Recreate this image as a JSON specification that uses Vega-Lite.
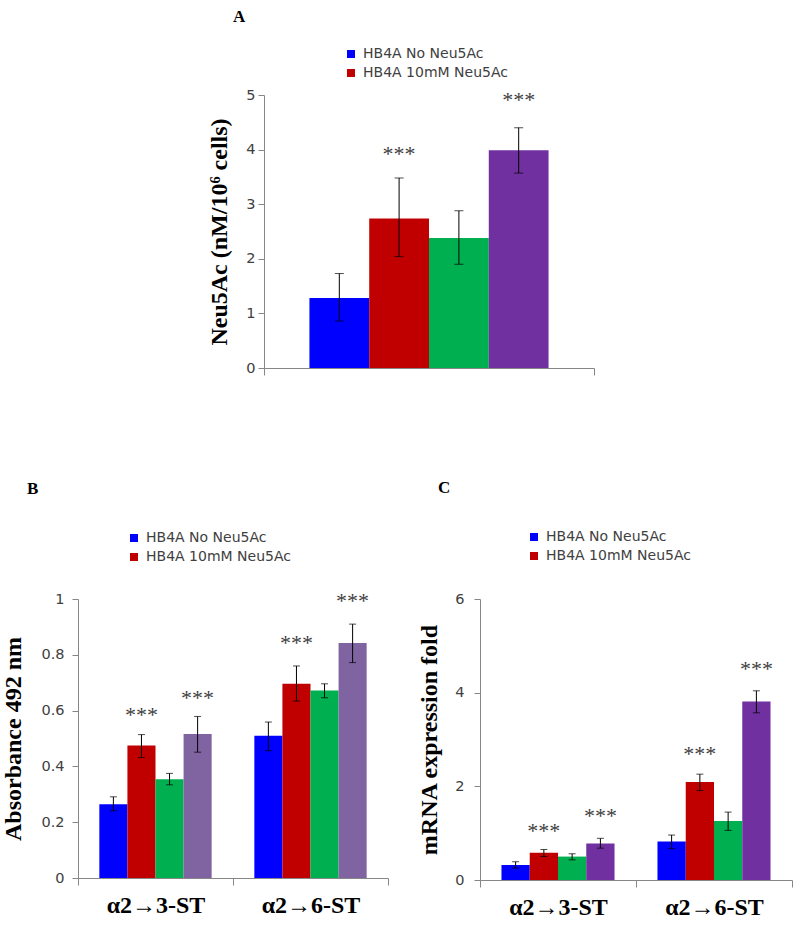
{
  "$schema": "https://vega.github.io/schema/vega-lite/v6.json",
  "padding": {"left": 1, "top": 8, "right": 0, "bottom": 0},
  "background": "white",
  "config": {
    "view": {"stroke": null},
    "axis": {"grid": false, "domainColor": "#868686", "tickColor": "#868686", "labelFont": "DejaVu Sans", "labelFontSize": 14.5, "labelColor": "#404040", "titleFont": "Liberation Serif", "titleFontSize": 24, "titleFontWeight": "bold", "titleColor": "#000000"},
    "axisX": {"labelFont": "Liberation Serif", "labelFontWeight": "bold", "labelFontSize": 24, "labelColor": "#000000", "labelAngle": 0, "tickBand": "extent", "tickSize": 7, "labelPadding": 8},
    "axisY": {"tickSize": 6},
    "legend": {"orient": "none", "title": null, "symbolType": "square", "symbolSize": 64, "symbolStrokeWidth": 0, "labelFont": "DejaVu Sans", "labelFontSize": 14, "labelColor": "#404040", "rowPadding": 5, "labelOffset": 5},
    "title": {"font": "Liberation Serif", "fontSize": 17, "fontWeight": "bold", "color": "#000000", "anchor": "start", "frame": "group"}
  },
  "datasets": {
    "bars": [
      {"panel": "A", "gene": "all", "series": "HB4A No Neu5Ac", "value": 1.28, "lo": 0.86, "hi": 1.73},
      {"panel": "A", "gene": "all", "series": "HB4A 10mM Neu5Ac", "value": 2.74, "lo": 2.04, "hi": 3.48},
      {"panel": "A", "gene": "all", "series": "Series 3", "value": 2.38, "lo": 1.90, "hi": 2.88},
      {"panel": "A", "gene": "all", "series": "Series 4", "value": 3.99, "lo": 3.57, "hi": 4.40},
      {"panel": "B", "gene": "α2→3-ST", "series": "HB4A No Neu5Ac", "value": 0.264, "lo": 0.241, "hi": 0.291},
      {"panel": "B", "gene": "α2→3-ST", "series": "HB4A 10mM Neu5Ac", "value": 0.475, "lo": 0.432, "hi": 0.514},
      {"panel": "B", "gene": "α2→3-ST", "series": "Series 3", "value": 0.354, "lo": 0.334, "hi": 0.375},
      {"panel": "B", "gene": "α2→3-ST", "series": "Series 4", "value": 0.516, "lo": 0.451, "hi": 0.579},
      {"panel": "B", "gene": "α2→6-ST", "series": "HB4A No Neu5Ac", "value": 0.510, "lo": 0.456, "hi": 0.559},
      {"panel": "B", "gene": "α2→6-ST", "series": "HB4A 10mM Neu5Ac", "value": 0.696, "lo": 0.634, "hi": 0.760},
      {"panel": "B", "gene": "α2→6-ST", "series": "Series 3", "value": 0.672, "lo": 0.646, "hi": 0.696},
      {"panel": "B", "gene": "α2→6-ST", "series": "Series 4", "value": 0.842, "lo": 0.772, "hi": 0.910},
      {"panel": "C", "gene": "α2→3-ST", "series": "HB4A No Neu5Ac", "value": 0.32, "lo": 0.255, "hi": 0.39},
      {"panel": "C", "gene": "α2→3-ST", "series": "HB4A 10mM Neu5Ac", "value": 0.58, "lo": 0.50, "hi": 0.65},
      {"panel": "C", "gene": "α2→3-ST", "series": "Series 3", "value": 0.50, "lo": 0.43, "hi": 0.56},
      {"panel": "C", "gene": "α2→3-ST", "series": "Series 4", "value": 0.78, "lo": 0.68, "hi": 0.89},
      {"panel": "C", "gene": "α2→6-ST", "series": "HB4A No Neu5Ac", "value": 0.82, "lo": 0.67, "hi": 0.96},
      {"panel": "C", "gene": "α2→6-ST", "series": "HB4A 10mM Neu5Ac", "value": 2.09, "lo": 1.91, "hi": 2.26},
      {"panel": "C", "gene": "α2→6-ST", "series": "Series 3", "value": 1.26, "lo": 1.06, "hi": 1.45},
      {"panel": "C", "gene": "α2→6-ST", "series": "Series 4", "value": 3.81, "lo": 3.57, "hi": 4.04}
    ],
    "stars": [
      {"panel": "A", "gene": "all", "series": "HB4A 10mM Neu5Ac", "pos": 3.95, "label": "***"},
      {"panel": "A", "gene": "all", "series": "Series 4", "pos": 4.94, "label": "***"},
      {"panel": "B", "gene": "α2→3-ST", "series": "HB4A 10mM Neu5Ac", "pos": 0.592, "label": "***"},
      {"panel": "B", "gene": "α2→3-ST", "series": "Series 4", "pos": 0.654, "label": "***"},
      {"panel": "B", "gene": "α2→6-ST", "series": "HB4A 10mM Neu5Ac", "pos": 0.850, "label": "***"},
      {"panel": "B", "gene": "α2→6-ST", "series": "Series 4", "pos": 0.999, "label": "***"},
      {"panel": "C", "gene": "α2→3-ST", "series": "HB4A 10mM Neu5Ac", "pos": 1.09, "label": "***"},
      {"panel": "C", "gene": "α2→3-ST", "series": "Series 4", "pos": 1.40, "label": "***"},
      {"panel": "C", "gene": "α2→6-ST", "series": "HB4A 10mM Neu5Ac", "pos": 2.74, "label": "***"},
      {"panel": "C", "gene": "α2→6-ST", "series": "Series 4", "pos": 4.55, "label": "***"}
    ]
  },
  "spacing": 103,
  "resolve": {"scale": {"color": "independent", "xOffset": "independent"}, "legend": {"color": "independent"}},
  "vconcat": [
    {
      "bounds": "flush",
      "spacing": 10,
      "resolve": {"scale": {"color": "independent", "xOffset": "independent"}, "legend": {"color": "independent"}},
      "hconcat": [
        {"data": {"values": []}, "mark": "point", "width": 176, "height": 273, "view": {"stroke": "transparent"}},
        {
          "width": 330, "height": 273,
          "title": {"text": "A", "dx": -31, "offset": 21},
          "encoding": {
            "x": {"field": "gene", "type": "nominal", "sort": null, "scale": {"paddingInner": 0, "paddingOuter": 0}, "axis": {"labels": false, "title": null}},
            "xOffset": {"field": "series", "type": "nominal", "sort": null, "scale": {"domain": ["HB4A No Neu5Ac", "HB4A 10mM Neu5Ac", "Series 3", "Series 4"], "paddingInner": 0, "paddingOuter": 0.76}}
          },
          "layer": [
            {
              "data": {"name": "bars"},
              "transform": [{"filter": "datum.panel === 'A'"}],
              "mark": {"type": "bar"},
              "encoding": {
                "y": {"field": "value", "type": "quantitative", "scale": {"domain": [0, 5]}, "title": "Neu5Ac (nM/10⁶ cells)", "axis": {"values": [0, 1, 2, 3, 4, 5], "labelPadding": 3, "titlePadding": 14}},
                "color": {"field": "series", "type": "nominal", "scale": {"domain": ["HB4A No Neu5Ac", "HB4A 10mM Neu5Ac", "Series 3", "Series 4"], "range": ["#0000FF", "#C00000", "#00B050", "#7030A0"]},
                  "legend": {"values": ["HB4A No Neu5Ac", "HB4A 10mM Neu5Ac"], "legendX": 80, "legendY": -48}}
              }
            },
            {
              "data": {"name": "bars"},
              "transform": [{"filter": "datum.panel === 'A'"}],
              "mark": {"type": "rule", "color": "#000000", "strokeWidth": 1},
              "encoding": {"y": {"field": "lo", "type": "quantitative", "title": "Neu5Ac (nM/10⁶ cells)"}, "y2": {"field": "hi"}}
            },
            {
              "data": {"name": "bars"},
              "transform": [{"filter": "datum.panel === 'A'"}],
              "mark": {"type": "tick", "color": "#000000", "size": 9, "thickness": 1},
              "encoding": {"y": {"field": "lo", "type": "quantitative", "title": "Neu5Ac (nM/10⁶ cells)"}}
            },
            {
              "data": {"name": "bars"},
              "transform": [{"filter": "datum.panel === 'A'"}],
              "mark": {"type": "tick", "color": "#000000", "size": 9, "thickness": 1},
              "encoding": {"y": {"field": "hi", "type": "quantitative", "title": "Neu5Ac (nM/10⁶ cells)"}}
            },
            {
              "data": {"name": "stars"},
              "transform": [{"filter": "datum.panel === 'A'"}],
              "mark": {"type": "text", "font": "Liberation Serif", "fontSize": 22, "color": "#404040", "baseline": "middle", "dy": 2},
              "encoding": {"y": {"field": "pos", "type": "quantitative", "title": "Neu5Ac (nM/10⁶ cells)"}, "text": {"field": "label"}}
            }
          ]
        }
      ]
    },
    {
      "bounds": "flush",
      "spacing": 92,
      "resolve": {"scale": {"color": "independent", "xOffset": "independent"}, "legend": {"color": "independent"}},
      "hconcat": [
        {
          "width": 310, "height": 279,
          "title": {"text": "B", "dx": -51, "offset": 33},
          "encoding": {
            "x": {"field": "gene", "type": "nominal", "sort": null, "scale": {"paddingInner": 0, "paddingOuter": 0}, "axis": {"title": null}},
            "xOffset": {"field": "series", "type": "nominal", "sort": null, "scale": {"domain": ["HB4A No Neu5Ac", "HB4A 10mM Neu5Ac", "Series 3", "Series 4"], "paddingInner": 0, "paddingOuter": 0.76}}
          },
          "layer": [
            {
              "data": {"name": "bars"},
              "transform": [{"filter": "datum.panel === 'B'"}],
              "mark": {"type": "bar"},
              "encoding": {
                "y": {"field": "value", "type": "quantitative", "scale": {"domain": [0, 1]}, "title": "Absorbance 492 nm", "axis": {"values": [0, 0.2, 0.4, 0.6, 0.8, 1], "format": "~g", "labelPadding": 8, "titlePadding": 15}},
                "color": {"field": "series", "type": "nominal", "scale": {"domain": ["HB4A No Neu5Ac", "HB4A 10mM Neu5Ac", "Series 3", "Series 4"], "range": ["#0000FF", "#C00000", "#00B050", "#8064A2"]},
                  "legend": {"values": ["HB4A No Neu5Ac", "HB4A 10mM Neu5Ac"], "legendX": 49, "legendY": -68}}
              }
            },
            {
              "data": {"name": "bars"},
              "transform": [{"filter": "datum.panel === 'B'"}],
              "mark": {"type": "rule", "color": "#000000", "strokeWidth": 1},
              "encoding": {"y": {"field": "lo", "type": "quantitative", "title": "Absorbance 492 nm"}, "y2": {"field": "hi"}}
            },
            {
              "data": {"name": "bars"},
              "transform": [{"filter": "datum.panel === 'B'"}],
              "mark": {"type": "tick", "color": "#000000", "size": 7, "thickness": 1},
              "encoding": {"y": {"field": "lo", "type": "quantitative", "title": "Absorbance 492 nm"}}
            },
            {
              "data": {"name": "bars"},
              "transform": [{"filter": "datum.panel === 'B'"}],
              "mark": {"type": "tick", "color": "#000000", "size": 7, "thickness": 1},
              "encoding": {"y": {"field": "hi", "type": "quantitative", "title": "Absorbance 492 nm"}}
            },
            {
              "data": {"name": "stars"},
              "transform": [{"filter": "datum.panel === 'B'"}],
              "mark": {"type": "text", "font": "Liberation Serif", "fontSize": 22, "color": "#404040", "baseline": "middle", "dy": 2},
              "encoding": {"y": {"field": "pos", "type": "quantitative", "title": "Absorbance 492 nm"}, "text": {"field": "label"}}
            }
          ]
        },
        {
          "width": 312, "height": 281,
          "title": {"text": "C", "dx": -42, "offset": 33},
          "encoding": {
            "x": {"field": "gene", "type": "nominal", "sort": null, "scale": {"paddingInner": 0, "paddingOuter": 0}, "axis": {"title": null}},
            "xOffset": {"field": "series", "type": "nominal", "sort": null, "scale": {"domain": ["HB4A No Neu5Ac", "HB4A 10mM Neu5Ac", "Series 3", "Series 4"], "paddingInner": 0, "paddingOuter": 0.76}}
          },
          "layer": [
            {
              "data": {"name": "bars"},
              "transform": [{"filter": "datum.panel === 'C'"}],
              "mark": {"type": "bar"},
              "encoding": {
                "y": {"field": "value", "type": "quantitative", "scale": {"domain": [0, 6]}, "title": "mRNA expression fold", "axis": {"values": [0, 2, 4, 6], "labelPadding": 10, "titlePadding": 13}},
                "color": {"field": "series", "type": "nominal", "scale": {"domain": ["HB4A No Neu5Ac", "HB4A 10mM Neu5Ac", "Series 3", "Series 4"], "range": ["#0000FF", "#C00000", "#00B050", "#7030A0"]},
                  "legend": {"values": ["HB4A No Neu5Ac", "HB4A 10mM Neu5Ac"], "legendX": 47, "legendY": -69}}
              }
            },
            {
              "data": {"name": "bars"},
              "transform": [{"filter": "datum.panel === 'C'"}],
              "mark": {"type": "rule", "color": "#000000", "strokeWidth": 1},
              "encoding": {"y": {"field": "lo", "type": "quantitative", "title": "mRNA expression fold"}, "y2": {"field": "hi"}}
            },
            {
              "data": {"name": "bars"},
              "transform": [{"filter": "datum.panel === 'C'"}],
              "mark": {"type": "tick", "color": "#000000", "size": 7, "thickness": 1},
              "encoding": {"y": {"field": "lo", "type": "quantitative", "title": "mRNA expression fold"}}
            },
            {
              "data": {"name": "bars"},
              "transform": [{"filter": "datum.panel === 'C'"}],
              "mark": {"type": "tick", "color": "#000000", "size": 7, "thickness": 1},
              "encoding": {"y": {"field": "hi", "type": "quantitative", "title": "mRNA expression fold"}}
            },
            {
              "data": {"name": "stars"},
              "transform": [{"filter": "datum.panel === 'C'"}],
              "mark": {"type": "text", "font": "Liberation Serif", "fontSize": 22, "color": "#404040", "baseline": "middle", "dy": 2},
              "encoding": {"y": {"field": "pos", "type": "quantitative", "title": "mRNA expression fold"}, "text": {"field": "label"}}
            }
          ]
        }
      ]
    }
  ]
}
